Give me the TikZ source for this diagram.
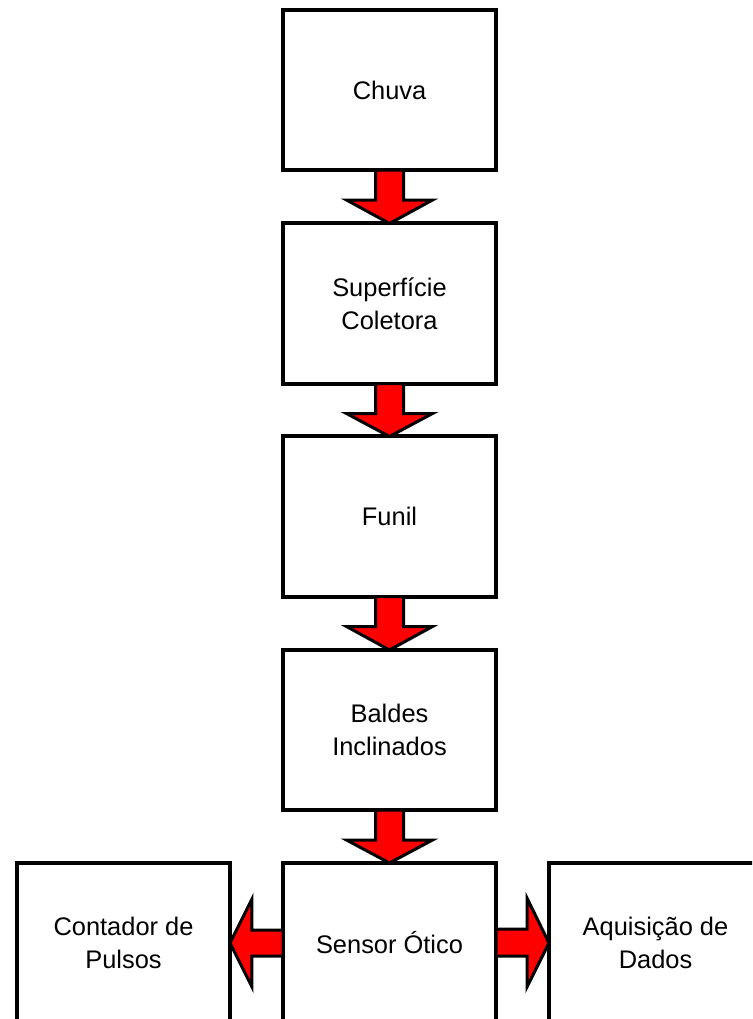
\documentclass[tikz,border=0pt]{standalone}
\usepackage{fontspec}
\setmainfont{Liberation Sans}
\usetikzlibrary{calc}

\tikzset{
    box/.style={draw, line width=0.12cm, outer sep=0pt, minimum width=6.39cm, minimum height=4.8cm,
        align=center, font=\fontsize{21.7}{28.5}\selectfont},
    flow/.style={draw=black, fill=red, line width=0.09cm, line join=miter}
}

% block arrow from the bottom of #1 to the top of #2
\newcommand{\flowdown}[2]{%
    \draw[flow] ($(#1.south)+(-14,0)$) -- ($(#1.south)+(-14,30)$) -- ($(#1.south)+(-43,30)$)
        -- (#2.north) -- ($(#1.south)+(43,30)$) -- ($(#1.south)+(14,30)$) -- ($(#1.south)+(14,0)$) -- cycle;}

\begin{document}
\begin{tikzpicture}[x=0.03cm, y=-0.03cm]
        \clip (0,0) rectangle (752,1019);
        \fill[white] (0,0) rectangle (752,1019);

        \node[box] (chuva) at (389.5,90) {Chuva};
        \node[box] (superficie) at (389.5,303.5) {Superfície\\Coletora};
        \node[box] (funil) at (389.5,516.5) {Funil};
        \node[box] (baldes) at (389.5,730) {Baldes\\Inclinados};
        \node[box] (sensor) at (389.5,943) {Sensor Ótico};
        \node[box] (contador) at (123.5,943) {Contador de\\Pulsos};
        \node[box] (aquisicao) at (655.5,943) {Aquisição de\\Dados};

        \flowdown{chuva}{superficie}
        \flowdown{superficie}{funil}
        \flowdown{funil}{baldes}
        \flowdown{baldes}{sensor}

        \draw[flow] ($(sensor.west)+(0,-13)$) -- ($(sensor.west)+(-31,-13)$) -- ($(sensor.west)+(-31,-44)$)
            -- (contador.east) -- ($(sensor.west)+(-31,44)$) -- ($(sensor.west)+(-31,13)$) -- ($(sensor.west)+(0,13)$) -- cycle;
        \draw[flow] ($(sensor.east)+(0,-14)$) -- ($(sensor.east)+(31,-14)$) -- ($(sensor.east)+(31,-45)$)
            -- (aquisicao.west) -- ($(sensor.east)+(31,44)$) -- ($(sensor.east)+(31,13)$) -- ($(sensor.east)+(0,13)$) -- cycle;
    \end{tikzpicture}
\end{document}
